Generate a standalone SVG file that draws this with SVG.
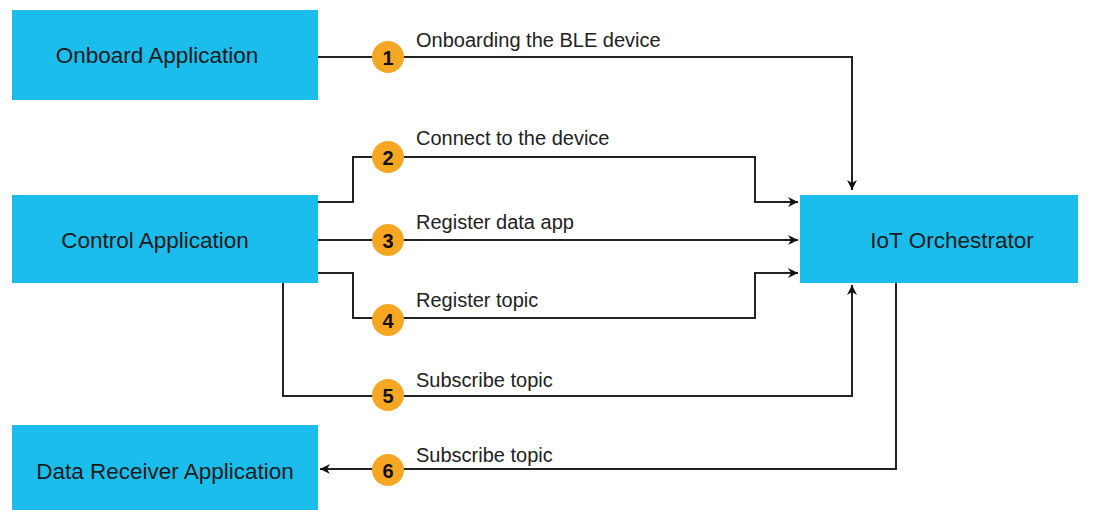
<svg xmlns="http://www.w3.org/2000/svg" width="1107" height="510" viewBox="0 0 1107 510">
<style>
.box{fill:#1BBDEC}
.bt{font-family:"Liberation Sans",Arial,sans-serif;font-size:22.5px;fill:#1a1a1a;text-anchor:middle;dominant-baseline:central}
.lbl{font-family:"Liberation Sans",Arial,sans-serif;font-size:20px;fill:#222}
.ln{fill:none;stroke:#222;stroke-width:2}
.bad{fill:#F5A623}
.num{font-family:"Liberation Sans",Arial,sans-serif;font-size:20px;font-weight:bold;fill:#111;text-anchor:middle;dominant-baseline:central}
</style>
<defs>
<marker id="ah" viewBox="0 0 10 10" refX="10" refY="5" markerWidth="10" markerHeight="10" markerUnits="userSpaceOnUse" orient="auto">
<path d="M0,0 L10,5 L0,10 L3,5 Z" fill="#111"/>
</marker>
</defs>
<rect width="1107" height="510" fill="#fff"/>
<g id="onboard"><rect class="box" x="12" y="10" width="306" height="90"/><text class="bt" x="157" y="55">Onboard Application</text></g>
<g id="control"><rect class="box" x="12" y="195" width="306" height="88"/><text class="bt" x="155" y="240">Control Application</text></g>
<g id="receiver"><rect class="box" x="12" y="425" width="306" height="85"/><text class="bt" x="165" y="471">Data Receiver Application</text></g>
<g id="orchestrator"><rect class="box" x="800" y="195" width="278" height="88"/><text class="bt" x="952" y="240">IoT Orchestrator</text></g>
<g id="connectors">
<path class="ln" d="M318,57 H852 V190" marker-end="url(#ah)"/>
<path class="ln" d="M318,202 H353 V157 H755 V202 H798" marker-end="url(#ah)"/>
<path class="ln" d="M318,240 H798" marker-end="url(#ah)"/>
<path class="ln" d="M318,273 H353 V318 H755 V273 H798" marker-end="url(#ah)"/>
<path class="ln" d="M283,283 V396 H852 V285" marker-end="url(#ah)"/>
<path class="ln" d="M896,283 V469 H320" marker-end="url(#ah)"/>
<circle class="bad" cx="388" cy="57" r="16"/><text class="num" x="388" y="58">1</text>
<circle class="bad" cx="388" cy="157" r="16"/><text class="num" x="388" y="158">2</text>
<circle class="bad" cx="388" cy="240" r="16"/><text class="num" x="388" y="241">3</text>
<circle class="bad" cx="388" cy="320" r="16"/><text class="num" x="388" y="321">4</text>
<circle class="bad" cx="388" cy="395" r="16"/><text class="num" x="388" y="396">5</text>
<circle class="bad" cx="388" cy="470" r="16"/><text class="num" x="388" y="471">6</text>
<text class="lbl" x="416" y="47">Onboarding the BLE device</text>
<text class="lbl" x="416" y="145">Connect to the device</text>
<text class="lbl" x="416" y="229">Register data app</text>
<text class="lbl" x="416" y="307">Register topic</text>
<text class="lbl" x="416" y="387">Subscribe topic</text>
<text class="lbl" x="416" y="462">Subscribe topic</text>
</g>
</svg>
